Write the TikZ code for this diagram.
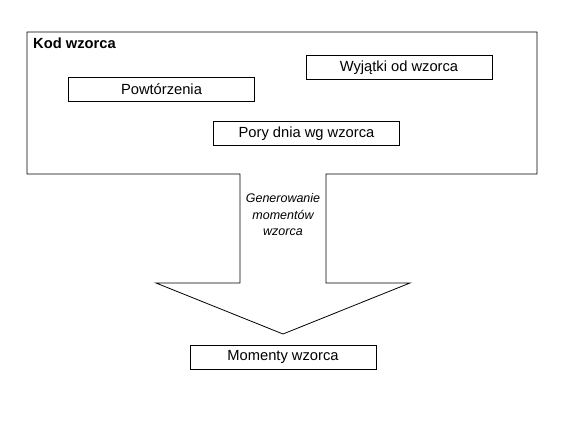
\documentclass[tikz,border=0pt]{standalone}
\usepackage{fontspec}
\setmainfont{Liberation Sans}
\usetikzlibrary{positioning}
\tikzset{
	pole/.style={draw, line width=0.8pt, minimum width=186pt, minimum height=24pt, inner sep=0pt, font=\fontsize{14.7}{17}\selectfont},
	ramka/.style={draw, line width=0.8pt}
}

\begin{document}
\begin{tikzpicture}[x=1pt,y=-1pt]
				\useasboundingbox (0,0) rectangle (567,425);
				
				% ramka kodu wzorca razem ze strzalka w dol
				\draw[ramka] (27,32) -- (537,32) -- (537,174) -- (326,174) -- (326,283) -- (410,283) -- (283,334)
					-- (156,283) -- (240,283) -- (240,174) -- (27,174) -- cycle;
				\coordinate (tip) at (283,334);
				
				\node[anchor=north west, inner sep=0pt, font=\fontsize{14.7}{17}\selectfont\bfseries] (kod) at (33,38) {Kod wzorca};
				
				\node[pole] (powt) at (161.5,89.5) {Powtórzenia};
				\node[pole] (wyjatki) at (399,67.5) {Wyjątki od wzorca};
				\node[pole] (pory) at (306.5,133.5) {Pory dnia wg wzorca};
				
				\node[align=center, font=\fontsize{12.5}{16.5}\selectfont\itshape] (gen) at (283,215) {Generowanie\\momentów\\wzorca};
				
				\node[pole, below=11pt of tip] (momenty) {Momenty wzorca};
				
\end{tikzpicture}
\end{document}
